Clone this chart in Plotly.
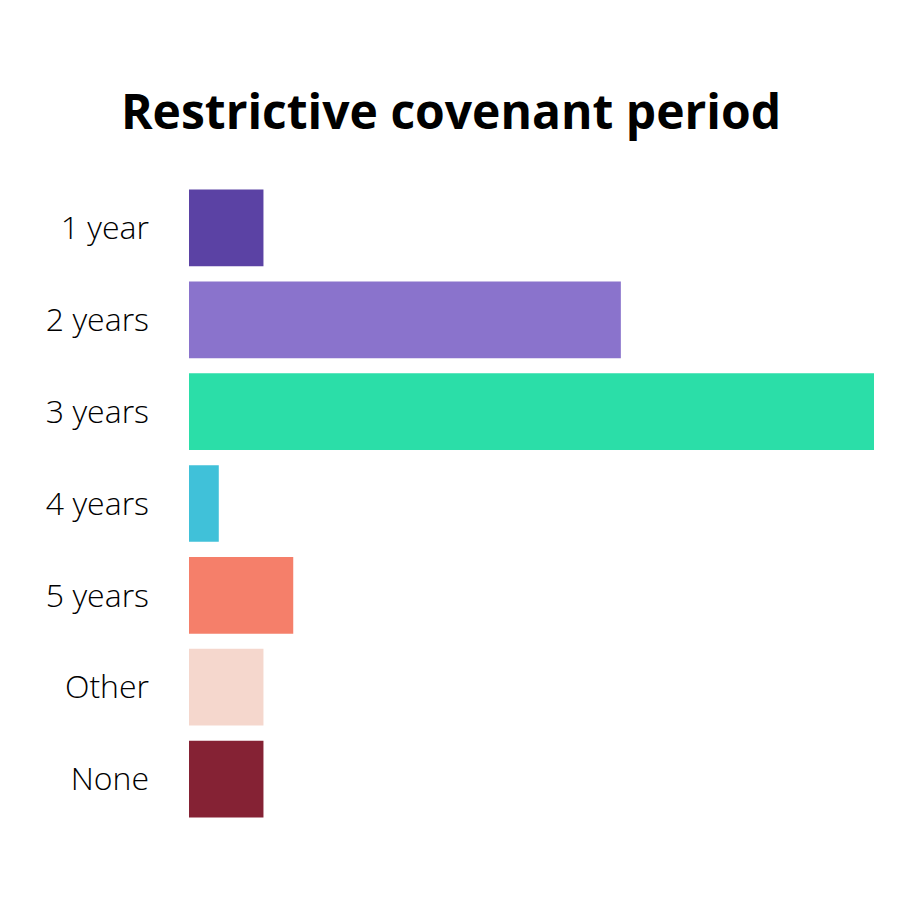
import plotly.graph_objects as go

categories = ["1 year", "2 years", "3 years", "4 years", "5 years", "Other", "None"]
values = [5, 29, 46, 2, 7, 5, 5]
colors = ["#5B42A4", "#8A73CC", "#2BDEA8", "#40C1D9", "#F57F6A", "#F5D7CD", "#852234"]

fig = go.Figure(go.Bar(
    x=values, y=categories, orientation="h",
    marker=dict(color=colors, line=dict(width=0)),
    hoverinfo="x+y",
))

fig.update_layout(
    width=901, height=901,
    paper_bgcolor="white", plot_bgcolor="white",
    margin=dict(l=181, r=35, t=174, b=84),
    bargap=0.165,
    showlegend=False,
    title=dict(text="<b>Restrictive covenant period</b>", x=443 / 901, xanchor="center",
               y=1 - 104 / 901, yanchor="middle",
               font=dict(family="Open Sans", size=48, color="black")),
)
fig.update_xaxes(range=[0, 46], visible=False, fixedrange=True)
fig.update_yaxes(autorange="reversed", showgrid=False, showline=False, zeroline=False,
                 ticks="", ticklabelstandoff=39,
                 tickfont=dict(family="Open Sans", size=32, color="black", weight=300))

fig.write_html("out.html")
